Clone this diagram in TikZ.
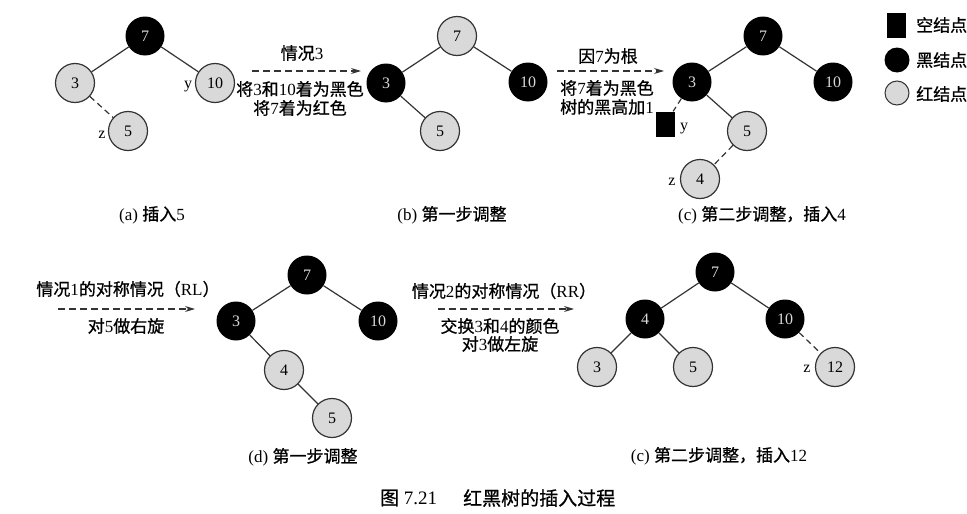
\documentclass[tikz,border=0pt]{standalone}
\usepackage{fontspec}
\setmainfont{Liberation Serif}
\newfontfamily\cjk[FakeBold=0.8]{Noto Sans CJK SC}
\usetikzlibrary{arrows.meta}
\newcommand\zh[1]{{\cjk #1}}
\definecolor{rbgray}{HTML}{D9D9D9}
\definecolor{rbedge}{HTML}{333333}
\tikzset{
  rb/.style={circle,minimum size=39pt,inner sep=0pt,font=\fontsize{16}{16}\selectfont},
  bk/.style={rb,fill=black,text=white!85!black},
  rd/.style={rb,fill=rbgray,draw=rbedge,line width=1.2pt,text=black},
  nilbox/.style={rectangle,fill=black,minimum width=19pt,minimum height=25pt,inner sep=0pt},
  treeline/.style={draw=rbedge,line width=1.2pt},
  dtreeline/.style={treeline,dash pattern=on 6pt off 4pt},
  steparrow/.style={draw=rbedge,line width=1.1pt,dash pattern=on 7pt off 4pt,-{Stealth[length=10pt,width=6pt]}},
  lbl/.style={font=\fontsize{17}{19}\selectfont,inner sep=0pt},
  varlbl/.style={font=\fontsize{16}{16}\selectfont,inner sep=0pt},
  subcap/.style={font=\fontsize{17}{19}\selectfont,inner sep=0pt},
  figcap/.style={font=\fontsize{19}{19}\selectfont,inner sep=0pt,anchor=west},
}
\begin{document}
\begin{tikzpicture}[x=1pt,y=-1pt]
\useasboundingbox[fill=white] (0,0) rectangle (967,514);
% ---- (a)
\node[bk] (a7) at (145,36) {7};
\node[rd] (a3) at (75,83) {3};
\node[rd] (a10) at (215,83) {10};
\node[rd] (a5) at (128,131) {5};
\draw[treeline] (a7) -- (a3);
\draw[treeline] (a7) -- (a10);
\draw[dtreeline] (a3) -- (a5);
\node[varlbl] (ay) at (188,87) {y};
\node[varlbl] (az) at (102,135) {z};
\node[subcap] (capa) at (152,215) {(a) \zh{插入}5};
% arrow a->b
\coordinate (ab1) at (252,71);
\coordinate (ab2) at (361,71);
\draw[steparrow] (ab1) -- (ab2);
\node[lbl] (ab-t) at (302,53) {\zh{情况}3};
\node[lbl] (ab-b1) at (300,89) {\zh{将}3\zh{和}10\zh{着为黑色}};
\node[lbl] (ab-b2) at (300,108) {\zh{将}7\zh{着为红色}};
% ---- (b)
\node[rd] (b7) at (457,36) {7};
\node[bk] (b3) at (386,83) {3};
\node[bk] (b10) at (528,82) {10};
\node[rd] (b5) at (440,131) {5};
\draw[treeline] (b7) -- (b3);
\draw[treeline] (b7) -- (b10);
\draw[treeline] (b3) -- (b5);
\node[subcap] (capb) at (452,215) {(b) \zh{第一步调整}};
% arrow b->c
\coordinate (bc1) at (557,71);
\coordinate (bc2) at (664,71);
\draw[steparrow] (bc1) -- (bc2);
\node[lbl] (bc-t) at (608,56) {\zh{因}7\zh{为根}};
\node[lbl] (bc-b1) at (607,88) {\zh{将}7\zh{着为黑色}};
\node[lbl] (bc-b2) at (607,107) {\zh{树的黑高加}1};
% ---- (c)
\node[bk] (c7) at (763,36) {7};
\node[bk] (c3) at (692,82) {3};
\node[bk] (c10) at (833,82) {10};
\node[rd] (c5) at (747,131) {5};
\node[rd] (c4) at (700,179) {4};
\node[nilbox] (cy) at (665,124) {};
\draw[treeline] (c7) -- (c3);
\draw[treeline] (c7) -- (c10);
\draw[treeline] (c3) -- (c5);
\draw[dtreeline] (c3) -- (cy);
\draw[dtreeline] (c5) -- (c4);
\node[varlbl] (cyl) at (684,129) {y};
\node[varlbl] (czl) at (672,182) {z};
\node[subcap] (capc) at (762,215) {(c) \zh{第二步调整，插入}4};
% legend
\node[nilbox] (lg1) at (896,25) {};
\node[circle,fill=black,minimum size=25pt,inner sep=0pt] (lg2) at (897,60) {};
\node[circle,fill=rbgray,draw=rbedge,line width=1pt,minimum size=24pt,inner sep=0pt] (lg3) at (897,93) {};
\node[lbl,anchor=west] (lt1) at (916,25) {\zh{空结点}};
\node[lbl,anchor=west] (lt2) at (916,60) {\zh{黑结点}};
\node[lbl,anchor=west] (lt3) at (916,94) {\zh{红结点}};
% arrow c->d
\coordinate (cd1) at (58,309);
\coordinate (cd2) at (195,309);
\draw[steparrow] (cd1) -- (cd2);
\node[lbl] (cd-t) at (128,289) {\zh{情况}1\zh{的对称情况（}RL\zh{）}};
\node[lbl] (cd-b) at (126,326) {\zh{对}5\zh{做右旋}};
% ---- (d)
\node[bk] (d7) at (307,275) {7};
\node[bk] (d3) at (236,321) {3};
\node[bk] (d10) at (378,321) {10};
\node[rd] (d4) at (284,370) {4};
\node[rd] (d5) at (332,418) {5};
\draw[treeline] (d7) -- (d3);
\draw[treeline] (d7) -- (d10);
\draw[treeline] (d3) -- (d4);
\draw[treeline] (d4) -- (d5);
\node[subcap] (capd) at (303,457) {(d) \zh{第一步调整}};
% arrow d->e
\coordinate (de1) at (438,309);
\coordinate (de2) at (574,309);
\draw[steparrow] (de1) -- (de2);
\node[lbl] (de-t) at (504,291) {\zh{情况}2\zh{的对称情况（}RR\zh{）}};
\node[lbl] (de-b1) at (500,326) {\zh{交换}3\zh{和}4\zh{的颜色}};
\node[lbl] (de-b2) at (500,344) {\zh{对}3\zh{做左旋}};
% ---- (e)
\node[bk] (e7) at (715,272) {7};
\node[bk] (e4) at (645,319) {4};
\node[bk] (e10) at (785,319) {10};
\node[rd] (e3) at (597,367) {3};
\node[rd] (e5) at (693,367) {5};
\node[rd] (e12) at (835,367) {12};
\draw[treeline] (e7) -- (e4);
\draw[treeline] (e7) -- (e10);
\draw[treeline] (e4) -- (e3);
\draw[treeline] (e4) -- (e5);
\draw[dtreeline] (e10) -- (e12);
\node[varlbl] (ez) at (807,369) {z};
\node[subcap] (cape) at (719,456) {(c) \zh{第二步调整，插入}12};
% figure caption
\node[figcap] (fignum) at (380,498) {\zh{图} 7.21};
\node[figcap] (figtxt) at (463,498) {\zh{红黑树的插入过程}};
\end{tikzpicture}
\end{document}
